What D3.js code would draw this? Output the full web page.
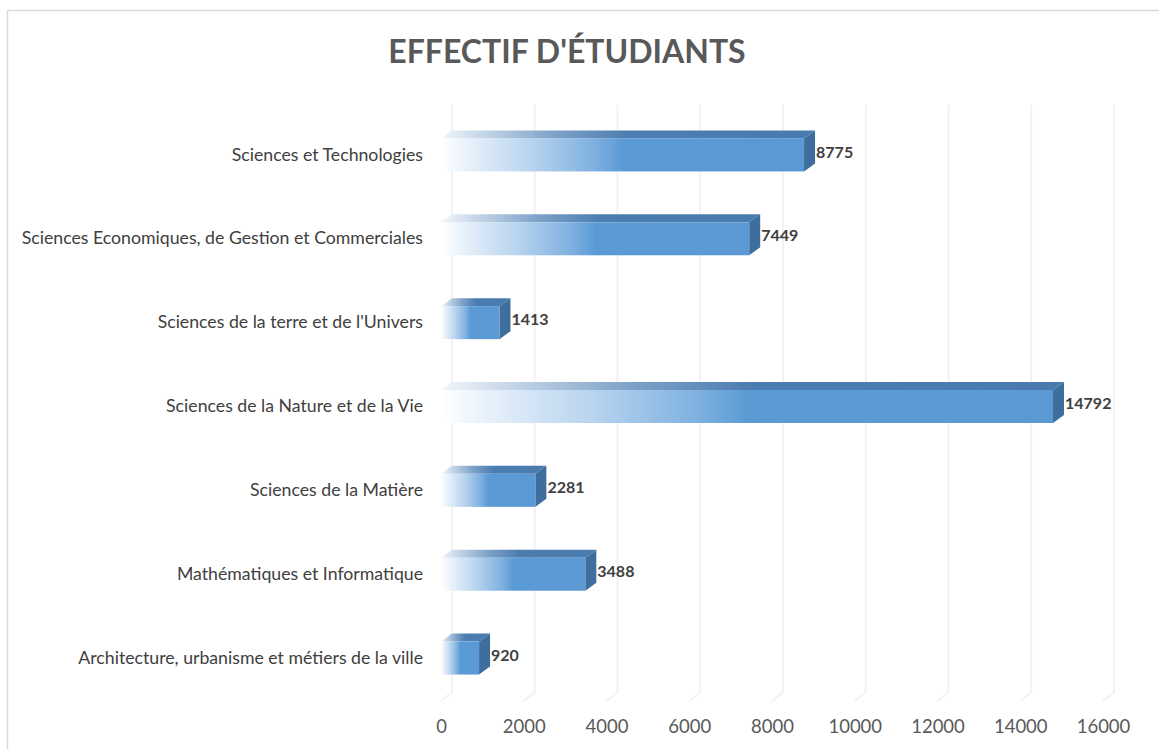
<!DOCTYPE html>
<html>
<head>
<meta charset="utf-8">
<script src="https://cdn.jsdelivr.net/npm/d3@7"></script>
<style>
  html, body { margin: 0; padding: 0; background: #fff; }
  svg { display: block; }
</style>
</head>
<body>
<svg id="chart" width="1159" height="749"></svg>
<script>
const categories = [
  "Sciences et Technologies",
  "Sciences Economiques, de Gestion et Commerciales",
  "Sciences de la terre et de l'Univers",
  "Sciences de la Nature et de la Vie",
  "Sciences de la Matière",
  "Mathématiques et Informatique",
  "Architecture, urbanisme et métiers de la ville"
];
const values = [8775, 7449, 1413, 14792, 2281, 3488, 920];
const tickValues = [0, 2000, 4000, 6000, 8000, 10000, 12000, 14000, 16000];
const title = "EFFECTIF D'ÉTUDIANTS";

const svg = d3.select("#chart");
const W = 1159, H = 749;
const font = "Lato, 'Open Sans', sans-serif";

// chart border
svg.append("rect").attr("x", 7.5).attr("y", 10.5).attr("width", W + 20).attr("height", H + 20)
  .attr("fill", "#fff").attr("stroke", "#D9D9D9").attr("stroke-width", 1.5);

// 3D depth
const dx = 11, dy = 8;

const x = d3.scaleLinear().domain([0, 16000]).range([441, 1103]);
const y = d3.scaleBand().domain(categories).range([113, 700]).paddingInner(0).paddingOuter(0);
const barH = 33;

const defs = svg.append("defs");
const gFront = defs.append("linearGradient").attr("id", "gFront")
  .attr("x1", "0").attr("x2", "1").attr("y1", "0").attr("y2", "0");
[[0, "#FFFFFF"], [0.08, "#E6F0FA"], [0.25, "#B7D3EE"], [0.42, "#7FB1E0"], [0.5, "#5B9BD5"], [1, "#5A99D4"]]
  .forEach(([o, c]) => gFront.append("stop").attr("offset", o).attr("stop-color", c));
const gTop = defs.append("linearGradient").attr("id", "gTop")
  .attr("x1", "0").attr("x2", "1").attr("y1", "0").attr("y2", "0");
[[0, "#F2F6FB"], [0.1, "#C9D9EA"], [0.3, "#7FA3C9"], [0.5, "#4C7DB0"], [1, "#4A7BAE"]]
  .forEach(([o, c]) => gTop.append("stop").attr("offset", o).attr("stop-color", c));

// gridlines (back wall + floor diagonal)
const grid = svg.append("g");
const backTop = 113 - dy, backBot = 700 - dy, floorY = 701;
tickValues.forEach(t => {
  const xf = x(t);
  grid.append("path")
    .attr("d", `M${xf + dx},${backTop} L${xf + dx},${backBot} L${xf},${floorY}`)
    .attr("fill", "none").attr("stroke", "#F2F2F2").attr("stroke-width", 2);
});

// x axis tick labels via d3 axis
const axis = d3.axisBottom(x).tickValues(tickValues).tickSize(0).tickPadding(0).tickFormat(d3.format("d"));
const axG = svg.append("g").attr("transform", "translate(0,720)").call(axis);
axG.select(".domain").remove();
axG.selectAll("text").attr("font-family", font).attr("font-size", 18.5).attr("fill", "#595959").attr("dy", "0.71em");

// category labels via d3 axis
const yAxis = d3.axisLeft(y).tickSize(0).tickPadding(0);
const ayG = svg.append("g").attr("transform", "translate(423,0)").call(yAxis);
ayG.select(".domain").remove();
ayG.selectAll("text").attr("font-family", font).attr("font-size", 17.7).attr("fill", "#404040");

// bars
const bars = svg.append("g").selectAll("g").data(categories).join("g");
bars.each(function(c, i) {
  const g = d3.select(this);
  const v = values[i];
  const x0 = x(0), x1 = x(v);
  const yc = y(c) + y.bandwidth() / 2;
  const y0 = yc - barH / 2, y1 = yc + barH / 2;
  // top face
  g.append("path")
    .attr("d", `M${x0},${y0} L${x1},${y0} L${x1 + dx},${y0 - dy} L${x0 + dx},${y0 - dy} Z`)
    .attr("fill", "url(#gTop)");
  // side face
  g.append("path")
    .attr("d", `M${x1},${y0} L${x1 + dx},${y0 - dy} L${x1 + dx},${y1 - dy} L${x1},${y1} Z`)
    .attr("fill", "#3E6E9E");
  // front face
  g.append("rect").attr("x", x0).attr("y", y0).attr("width", x1 - x0).attr("height", barH)
    .attr("fill", "url(#gFront)");
  // value label
  g.append("text").attr("x", x1 + dx + 1).attr("y", yc - 3).attr("dy", "0.35em")
    .attr("font-family", font).attr("font-size", 16).attr("font-weight", "bold")
    .attr("fill", "#404040").text(d3.format("d")(v));
});

// title
svg.append("text").attr("x", 567).attr("y", 63).attr("text-anchor", "middle")
  .attr("font-family", font).attr("font-size", 32).attr("font-weight", "bold")
  .attr("fill", "#595959").text(title);
</script>
</body>
</html>
